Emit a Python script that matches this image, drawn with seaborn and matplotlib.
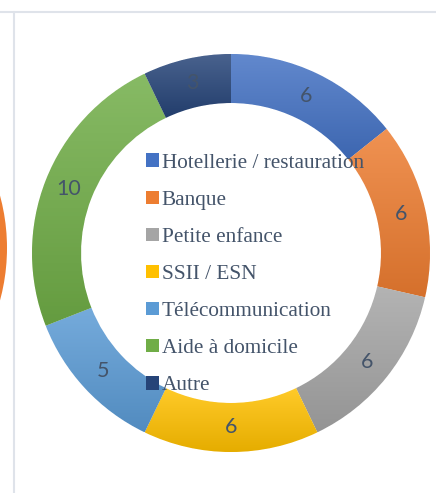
import numpy as np
import matplotlib.pyplot as plt
import matplotlib.colors as mcolors
import seaborn as sns

# sectors of the donut (clockwise from 12 o'clock)
sectors = ['Hotellerie / restauration', 'Banque', 'Petite enfance', 'SSII / ESN',
           'Télécommunication', 'Aide à domicile', 'Autre']
counts = [6, 6, 6, 6, 5, 10, 3]
colors = ['#4472C4', '#ED7D31', '#A5A5A5', '#FFC000', '#5B9BD5', '#70AD47', '#264478']

sns.set_theme(style='white')
text_col = '#44546A'

fig = plt.figure(figsize=(4.36, 4.93), dpi=100)
ax = fig.add_axes([0, 0, 1, 1])
ax.set_xlim(0, 436)
ax.set_ylim(0, 493)
ax.set_axis_off()

# frame of the slide / cell
ax.plot([0, 436], [481, 481], color='#dfe3ea', lw=1.5)
ax.plot([14, 14], [0, 481], color='#dfe3ea', lw=1.5)

# piece of the neighbouring chart on the left (orange ring)
ax.pie([1], colors=['#ED7D31'], center=(-193, 245), radius=200,
       wedgeprops=dict(width=50, linewidth=0), frame=True)

total = sum(counts)
wedges, _, autotexts = ax.pie(
    counts, colors=colors, startangle=90, counterclock=False,
    center=(231, 240), radius=199, frame=True,
    wedgeprops=dict(width=49, edgecolor='white', linewidth=0.6),
    autopct=lambda p: '%d' % round(p * total / 100), pctdistance=0.875,
    textprops=dict(color=text_col, fontsize=15.5, family='Lato'))

# vertical gradient on each segment, lighter on top
for w, c in zip(wedges, colors):
    base = np.array(mcolors.to_rgb(c))
    top = base + (1 - base) * 0.16
    bot = base * 0.9
    t = np.linspace(0, 1, 64)[:, None]
    grad = (top[None, :] * (1 - t) + bot[None, :] * t)[:, None, :]
    x0, y0, x1, y1 = w.get_path().get_extents(w.get_transform()).transformed(
        ax.transData.inverted()).extents
    im = ax.imshow(grad, extent=(x0, x1, y0, y1), origin='upper', aspect='auto',
                   zorder=w.get_zorder() + 0.1)
    im.set_clip_path(w)
for t in autotexts:
    t.set_zorder(5)

ax.set_xlim(0, 436)
ax.set_ylim(0, 493)
ax.set_aspect('auto')

leg = ax.legend(wedges, sectors, loc='upper left', bbox_to_anchor=(146 / 436, 1 - 153.5 / 493),
                frameon=False, handlelength=0.6, handleheight=0.6, handletextpad=0.14,
                labelspacing=0.84, borderpad=0, borderaxespad=0,
                prop=dict(family='Liberation Serif', size=15.3))
for txt in leg.get_texts():
    txt.set_color(text_col)
for h in leg.legend_handles:
    h.set_edgecolor('none')
leg.set_zorder(6)

fig.savefig('out.png', dpi=100)
